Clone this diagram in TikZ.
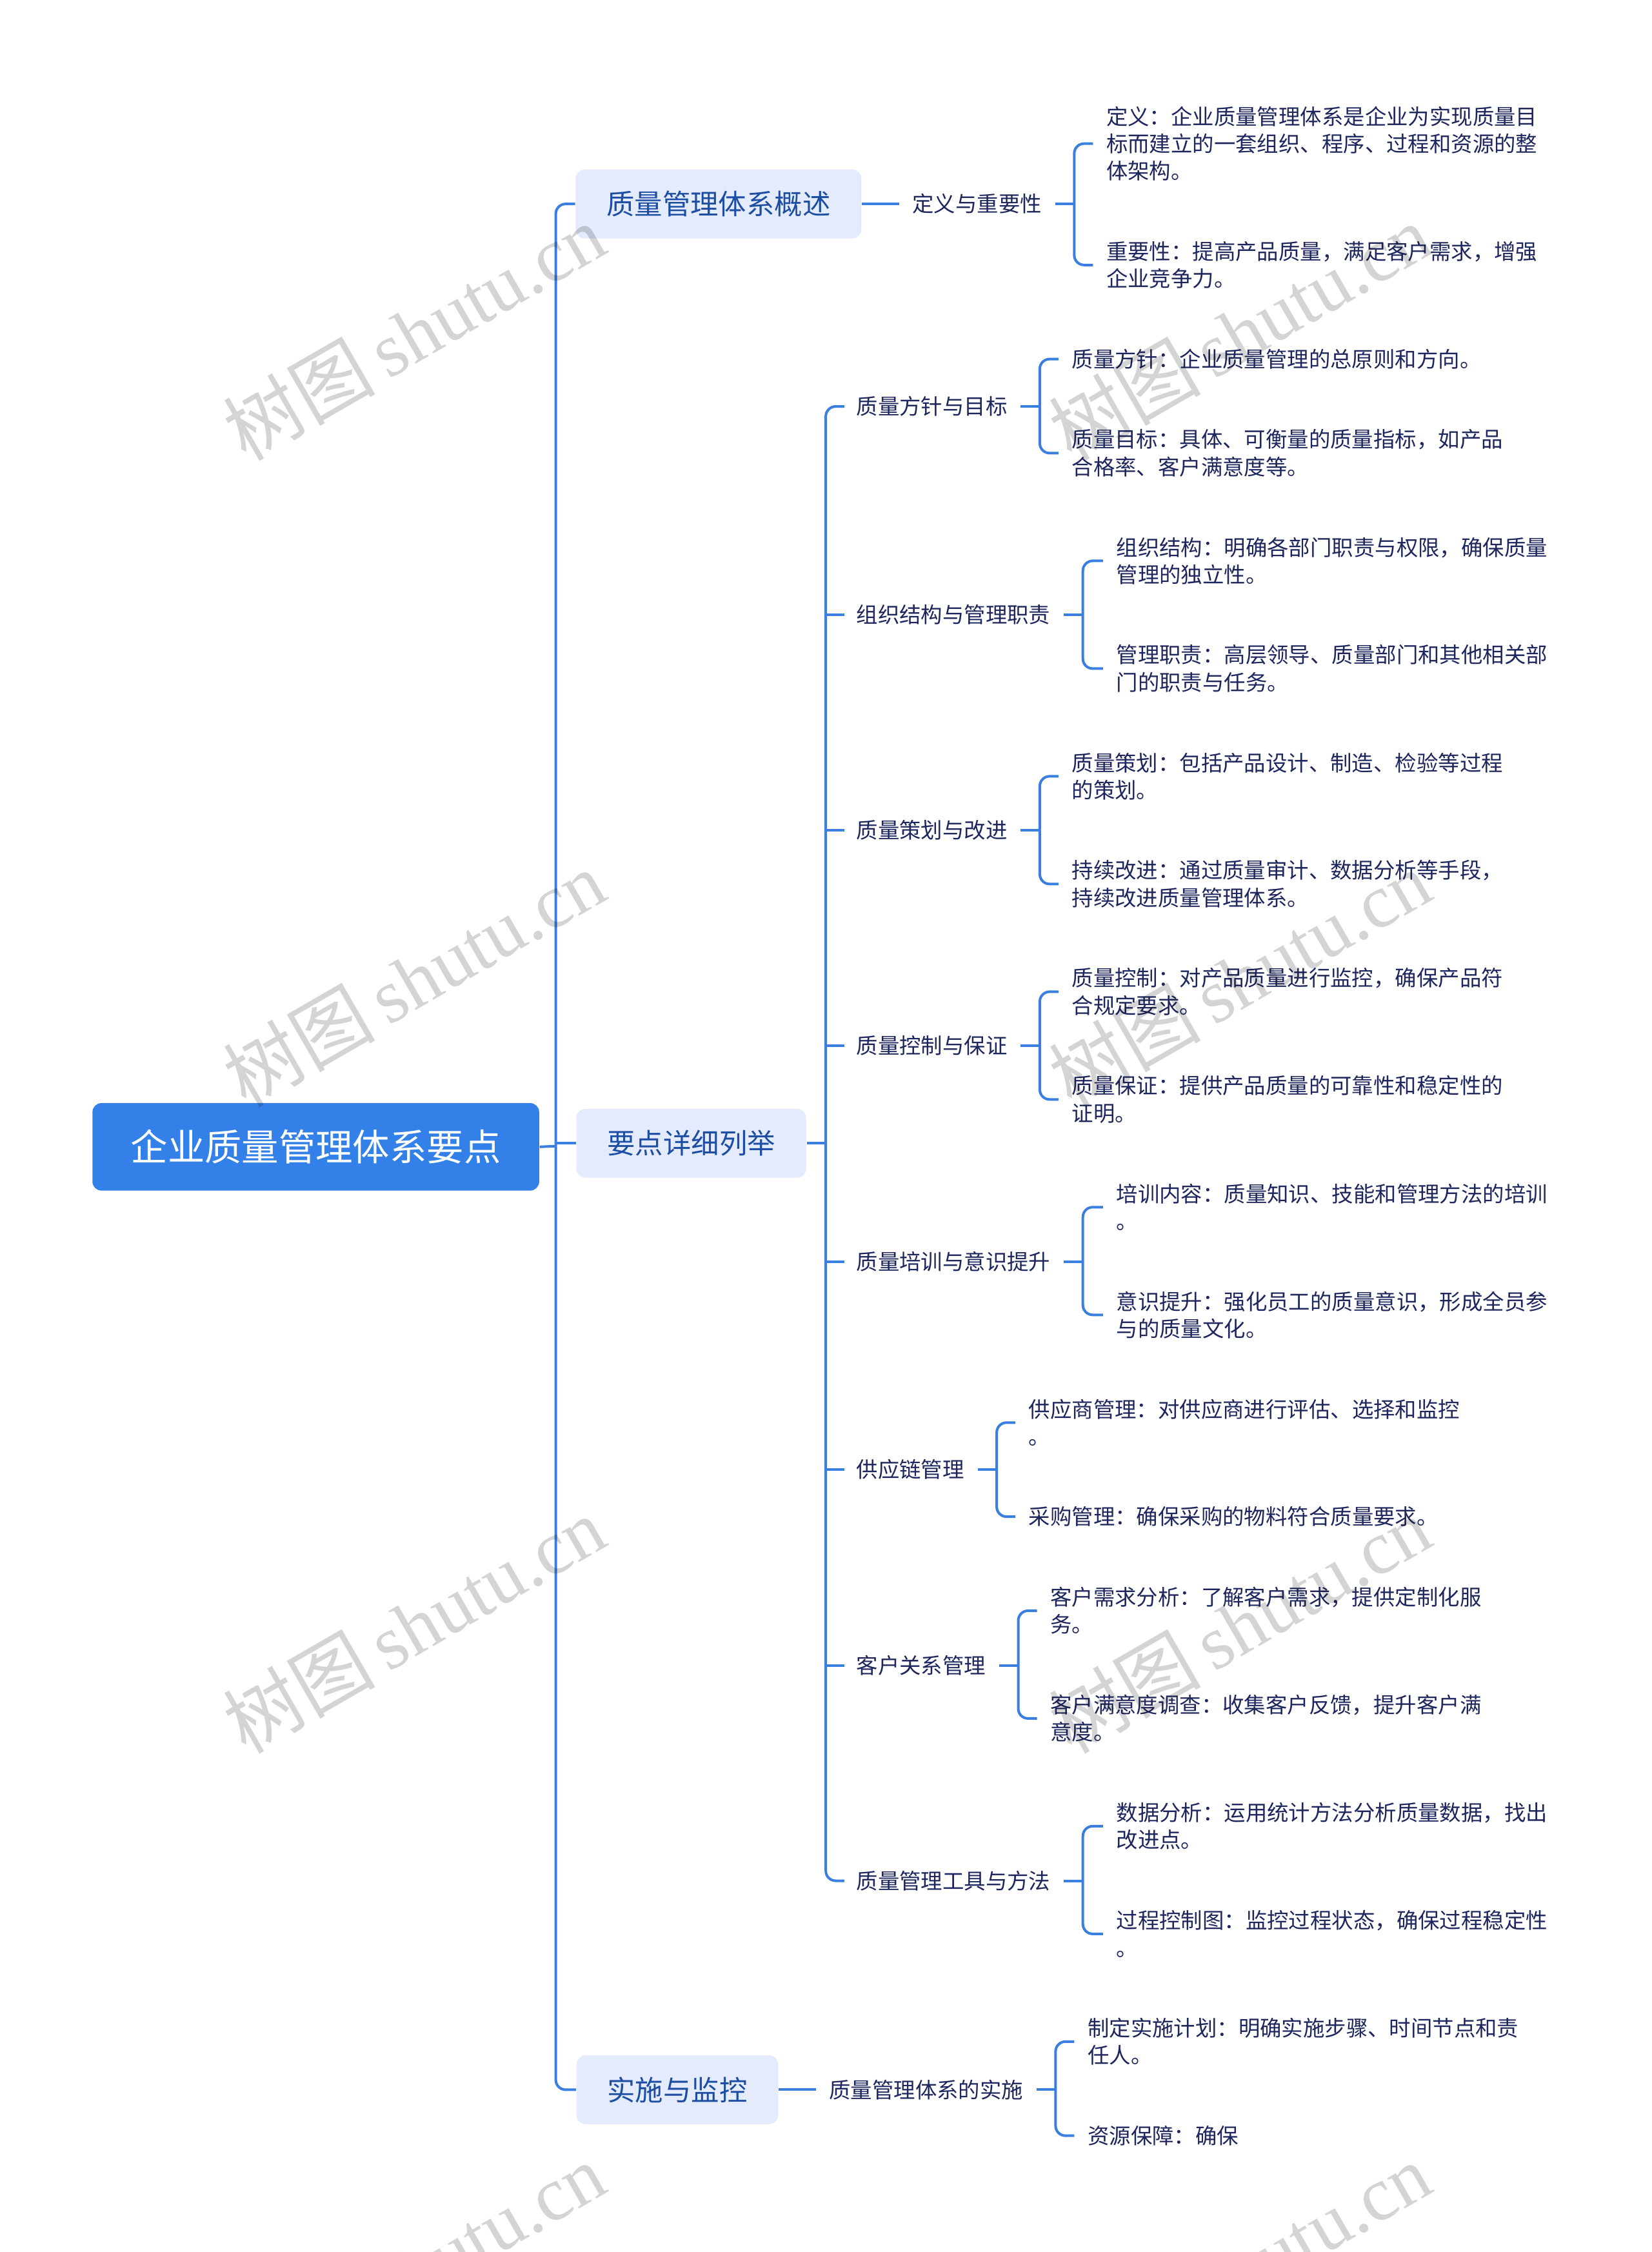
\documentclass[tikz,border=0pt]{standalone}
\usepackage{fontspec}
\setmainfont{Noto Sans CJK SC}
\newfontfamily\wmcjk{Noto Sans CJK SC}
\newfontfamily\wmlat{Liberation Serif}
\definecolor{linec}{HTML}{3A7EE0}
\definecolor{rootc}{HTML}{3381E8}
\definecolor{lonefill}{HTML}{E3EBFC}
\definecolor{lonetext}{HTML}{1D4EA3}
\definecolor{txtc}{HTML}{1E265E}
\newcommand\mkbracket[4]{%
  \coordinate (k#1) at (#2,0);
  \draw[conn] ([xshift=5pt]#1.east) -- (#1.east -| k#1);
  \draw[conn] ([xshift=-5pt]#3.west) -| (#1.east -| k#1) |- ([xshift=-5pt]#4.west);
}
\begin{document}
\begin{tikzpicture}[x=0.5565pt,y=-0.5565pt,
  conn/.style={draw=linec, line width=1pt, rounded corners=3.8pt},
  rootbox/.style={fill=rootc, text=white, rounded corners=3.5pt, inner xsep=14.86pt, inner ysep=0pt, minimum height=33.9pt, font=\fontsize{14.34}{17}\selectfont},
  lonebox/.style={fill=lonefill, text=lonetext, rounded corners=3.5pt, inner xsep=11.96pt, inner ysep=0pt, minimum height=26.7pt, font=\fontsize{10.85}{13}\selectfont},
  subtext/.style={text=txtc, inner sep=0pt, anchor=west, align=left, font=\fontsize{8.35}{10.57}\selectfont},
  wmark/.style={text=black, opacity=0.17, rotate=30, inner sep=0pt, font=\fontsize{29.5}{30}\selectfont}
]
\useasboundingbox (0,0) rectangle (1150,1568);
\fill[white] (0,0) rectangle (1150,1568);

% main nodes
\node[rootbox, anchor=west] (root) at (64,798.5) {企业质量管理体系要点};
\node[lonebox, anchor=west] (A) at (400.5,142) {质量管理体系概述};
\node[lonebox, anchor=west] (B) at (401,796) {要点详细列举};
\node[lonebox, anchor=west] (C) at (401,1455) {实施与监控};

% level 2
\node[subtext] (a1) at (635,142) {定义与重要性};
\node[subtext] (b1) at (596,283) {质量方针与目标};
\node[subtext] (b2) at (596,428) {组织结构与管理职责};
\node[subtext] (b3) at (596,578) {质量策划与改进};
\node[subtext] (b4) at (596,728) {质量控制与保证};
\node[subtext] (b5) at (596,878.5) {质量培训与意识提升};
\node[subtext] (b6) at (596,1023) {供应链管理};
\node[subtext] (b7) at (596,1159.5) {客户关系管理};
\node[subtext] (b8) at (596,1309.5) {质量管理工具与方法};
\node[subtext] (c1) at (577,1455) {质量管理体系的实施};

% leaves
\node[subtext] (a11) at (770,100) {定义：企业质量管理体系是企业为实现质量目\\标而建立的一套组织、程序、过程和资源的整\\体架构。};
\node[subtext] (a12) at (770,184.5) {重要性：提高产品质量，满足客户需求，增强\\企业竞争力。};
\node[subtext] (b11) at (746,250) {质量方针：企业质量管理的总原则和方向。};
\node[subtext] (b12) at (746,315.5) {质量目标：具体、可衡量的质量指标，如产品\\合格率、客户满意度等。};
\node[subtext] (b21) at (777,390.5) {组织结构：明确各部门职责与权限，确保质量\\管理的独立性。};
\node[subtext] (b22) at (777,465.5) {管理职责：高层领导、质量部门和其他相关部\\门的职责与任务。};
\node[subtext] (b31) at (746,540.5) {质量策划：包括产品设计、制造、检验等过程\\的策划。};
\node[subtext] (b32) at (746,615.5) {持续改进：通过质量审计、数据分析等手段，\\持续改进质量管理体系。};
\node[subtext] (b41) at (746,690.5) {质量控制：对产品质量进行监控，确保产品符\\合规定要求。};
\node[subtext] (b42) at (746,765.5) {质量保证：提供产品质量的可靠性和稳定性的\\证明。};
\node[subtext] (b51) at (777,840.5) {培训内容：质量知识、技能和管理方法的培训\\。};
\node[subtext] (b52) at (777,915.5) {意识提升：强化员工的质量意识，形成全员参\\与的质量文化。};
\node[subtext] (b61) at (716,990.5) {供应商管理：对供应商进行评估、选择和监控\\。};
\node[subtext] (b62) at (716,1056) {采购管理：确保采购的物料符合质量要求。};
\node[subtext] (b71) at (731,1121.5) {客户需求分析：了解客户需求，提供定制化服\\务。};
\node[subtext] (b72) at (731,1196.5) {客户满意度调查：收集客户反馈，提升客户满\\意度。};
\node[subtext] (b81) at (777,1271.5) {数据分析：运用统计方法分析质量数据，找出\\改进点。};
\node[subtext] (b82) at (777,1346.5) {过程控制图：监控过程状态，确保过程稳定性\\。};
\node[subtext] (c11) at (757,1421.5) {制定实施计划：明确实施步骤、时间节点和责\\任人。};
\node[subtext] (c12) at (757,1487) {资源保障：确保};

% trunk 1
\coordinate (t1) at (387,798);
\draw[conn] (A.west) -| (t1) |- (C.west);
\draw[conn] (root.east) -- (t1);
\draw[conn] (t1 |- B.west) -- (B.west);

% trunk 2
\coordinate (t2) at (575,796);
\draw[conn] ([xshift=-4.5pt]b1.west) -| (t2) |- ([xshift=-4.5pt]b8.west);
\draw[conn] (B.east) -- (t2);
\foreach \n in {b2,b3,b4,b5,b6,b7}{
  \draw[conn] (t2 |- \n.west) -- ([xshift=-4.5pt]\n.west);
}

% level1 -> level2
\draw[conn] (A.east) -- ([xshift=-5pt]a1.west);
\draw[conn] (C.east) -- ([xshift=-5pt]c1.west);

% brackets
\mkbracket{a1}{748}{a11}{a12}
\mkbracket{b1}{724}{b11}{b12}
\mkbracket{b2}{754}{b21}{b22}
\mkbracket{b3}{724}{b31}{b32}
\mkbracket{b4}{724}{b41}{b42}
\mkbracket{b5}{754}{b51}{b52}
\mkbracket{b6}{694}{b61}{b62}
\mkbracket{b7}{709}{b71}{b72}
\mkbracket{b8}{754}{b81}{b82}
\mkbracket{c1}{735}{c11}{c12}

% watermarks
\foreach \wx in {288,863}{
  \foreach \wy in {231,681,1131,1581}{
    \node[wmark] (wm-\wx-\wy) at (\wx,\wy) {{\wmcjk 树图}\,{\wmlat shutu.cn}};
  }
}
\end{tikzpicture}
\end{document}
